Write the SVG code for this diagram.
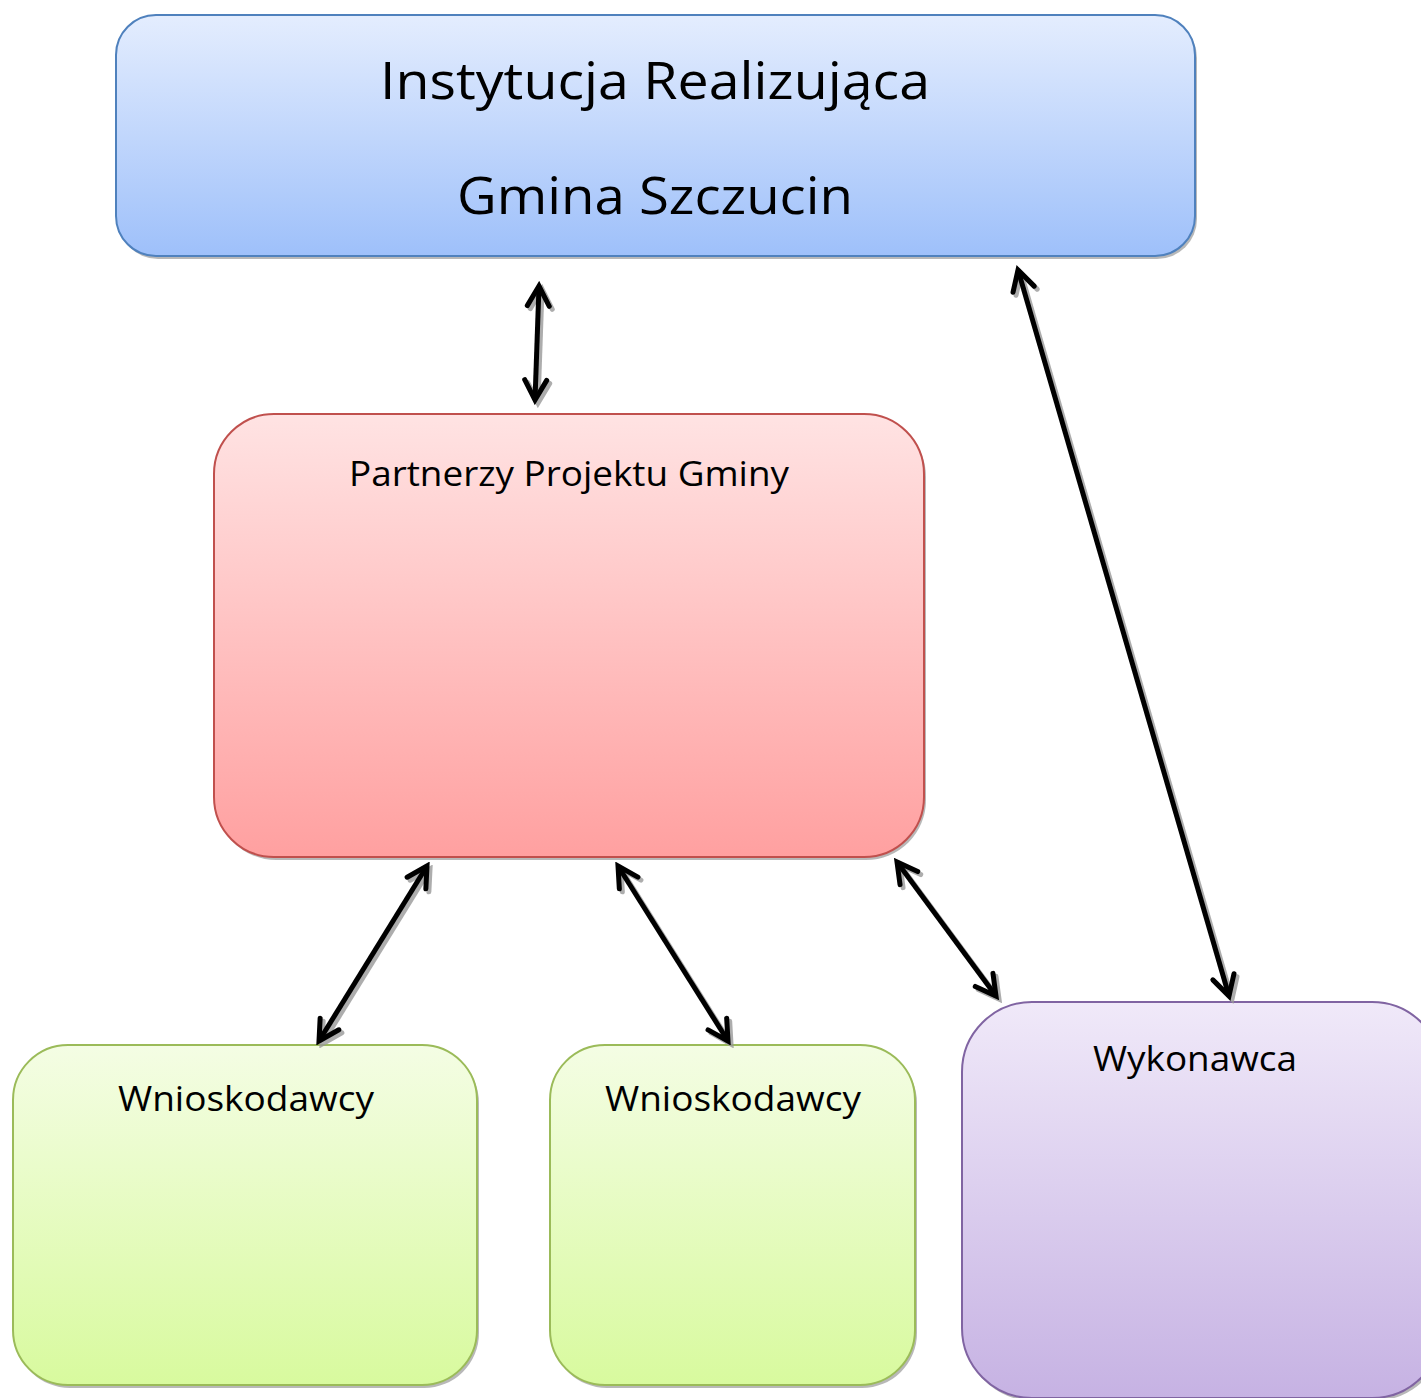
<svg xmlns="http://www.w3.org/2000/svg" width="1421" height="1398" viewBox="0 0 1421 1398">
<defs>
<linearGradient id="gBlue" x1="0" y1="0" x2="0" y2="1"><stop offset="0" stop-color="#e4edfe"/><stop offset="1" stop-color="#9ec0fa"/></linearGradient>
<linearGradient id="gRed" x1="0" y1="0" x2="0" y2="1"><stop offset="0" stop-color="#ffe3e3"/><stop offset="1" stop-color="#ffa0a0"/></linearGradient>
<linearGradient id="gGreen" x1="0" y1="0" x2="0" y2="1"><stop offset="0" stop-color="#f4fde4"/><stop offset="1" stop-color="#d8fa9e"/></linearGradient>
<linearGradient id="gPurple" x1="0" y1="0" x2="0" y2="1"><stop offset="0" stop-color="#f0e9f9"/><stop offset="1" stop-color="#c6b2e3"/></linearGradient>
<marker id="ah" viewBox="-25 -14 30 28" refX="0" refY="0" markerWidth="30" markerHeight="28" markerUnits="userSpaceOnUse" orient="auto-start-reverse">
<path d="M-20,-11 L0,0 L-20,11" fill="none" stroke="#000" stroke-width="5" stroke-linecap="round" stroke-linejoin="miter"/>
</marker>
<marker id="ahs" viewBox="-25 -14 30 28" refX="0" refY="0" markerWidth="30" markerHeight="28" markerUnits="userSpaceOnUse" orient="auto-start-reverse">
<path d="M-20,-11 L0,0 L-20,11" fill="none" stroke="#999" stroke-width="5" stroke-linecap="round"/>
</marker>
</defs>
<style>
.sh{fill:#9a9a9a;opacity:0.7}
.t{font-family:"Open Sans","Noto Sans","Liberation Sans",sans-serif;fill:#000;text-anchor:middle}
.c{stroke:#000;stroke-width:5;fill:none;marker-start:url(#ah);marker-end:url(#ah)}
.cs{stroke:#999;stroke-width:5;fill:none;marker-start:url(#ahs);marker-end:url(#ahs);opacity:0.8}
</style>
<g id="node-ir">
<rect class="sh" x="118" y="18" width="1079" height="241" rx="40"/>
<rect x="116" y="15" width="1079" height="241" rx="40" fill="url(#gBlue)" stroke="#4f81bd" stroke-width="2"/>
<text class="t" x="655" y="99" font-size="52" textLength="550" lengthAdjust="spacingAndGlyphs">Instytucja Realizująca</text>
<text class="t" x="655" y="214" font-size="52" textLength="396" lengthAdjust="spacingAndGlyphs">Gmina Szczucin</text>
</g>
<g id="node-pp">
<rect class="sh" x="216" y="417" width="710" height="443" rx="60"/>
<rect x="214" y="414" width="710" height="443" rx="60" fill="url(#gRed)" stroke="#c0504d" stroke-width="2"/>
<text class="t" x="569" y="486" font-size="35" textLength="440" lengthAdjust="spacingAndGlyphs">Partnerzy Projektu Gminy</text>
</g>
<g id="node-w1">
<rect class="sh" x="15" y="1048" width="464" height="340" rx="55"/>
<rect x="13" y="1045" width="464" height="340" rx="55" fill="url(#gGreen)" stroke="#9bbb59" stroke-width="2"/>
<text class="t" x="246" y="1111" font-size="35" textLength="256" lengthAdjust="spacingAndGlyphs">Wnioskodawcy</text>
</g>
<g id="node-w2">
<rect class="sh" x="552" y="1048" width="365" height="340" rx="55"/>
<rect x="550" y="1045" width="365" height="340" rx="55" fill="url(#gGreen)" stroke="#9bbb59" stroke-width="2"/>
<text class="t" x="733" y="1111" font-size="35" textLength="256" lengthAdjust="spacingAndGlyphs">Wnioskodawcy</text>
</g>
<g id="node-wyk">
<rect class="sh" x="964" y="1005" width="480" height="396" rx="70"/>
<rect x="962" y="1002" width="480" height="396" rx="70" fill="url(#gPurple)" stroke="#8064a2" stroke-width="2"/>
<text class="t" x="1195" y="1071" font-size="35" textLength="204" lengthAdjust="spacingAndGlyphs">Wykonawca</text>
</g>
<g id="connectors">
<g transform="translate(3,3)">
<line class="cs" x1="539" y1="286" x2="535" y2="400"/>
<line class="cs" x1="1018" y1="270" x2="1229" y2="996"/>
<line class="cs" x1="427" y1="866" x2="319" y2="1041"/>
<line class="cs" x1="618" y1="866" x2="728" y2="1041"/>
<line class="cs" x1="897" y1="862" x2="996" y2="996"/>
</g>
<line class="c" x1="539" y1="286" x2="535" y2="400"/>
<line class="c" x1="1018" y1="270" x2="1229" y2="996"/>
<line class="c" x1="427" y1="866" x2="319" y2="1041"/>
<line class="c" x1="618" y1="866" x2="728" y2="1041"/>
<line class="c" x1="897" y1="862" x2="996" y2="996"/>
</g>
</svg>
